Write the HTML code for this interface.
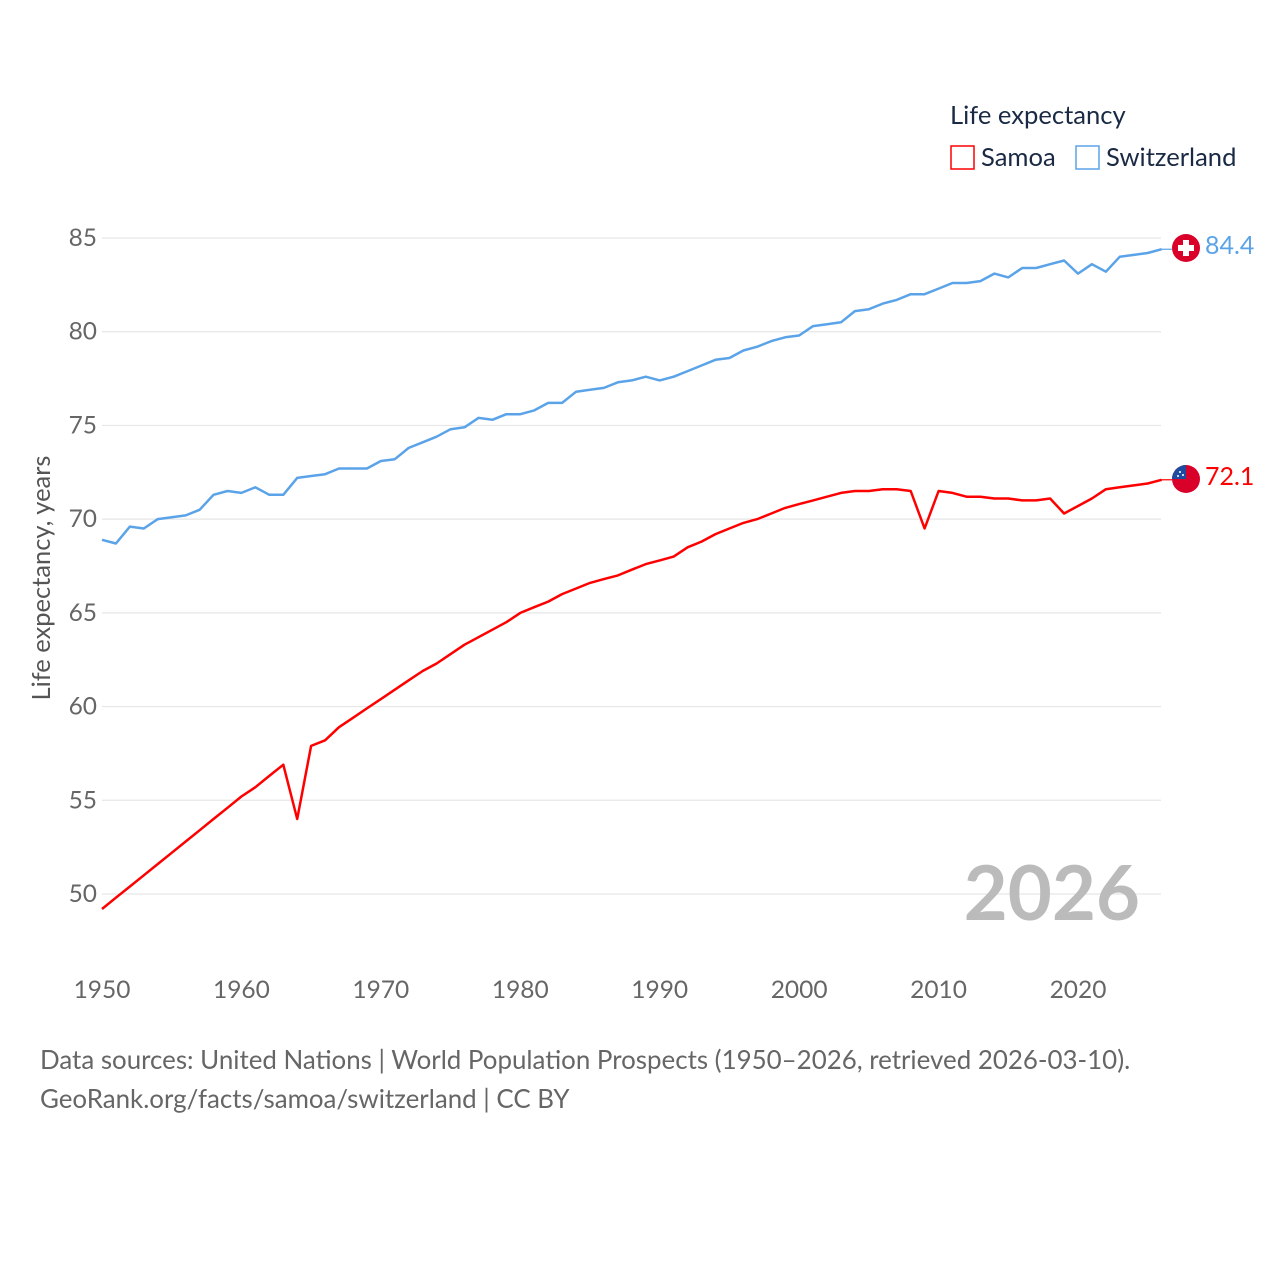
<!DOCTYPE html>
<html><head><meta charset="utf-8"><style>
body{margin:0;background:#fff;font-family:"Liberation Sans",sans-serif}
svg text{font-family:"Lato","Liberation Sans",sans-serif}
</style></head><body>
<svg id="chart" width="1280" height="1280" xmlns="http://www.w3.org/2000/svg">
<g id="grid"></g>
<g id="yticks"></g>
<g id="xticks"></g>
<text transform="translate(50,578) rotate(-90)" text-anchor="middle" font-size="25.5" fill="#555">Life expectancy, years</text>
<text x="1140" y="920" text-anchor="end" font-size="76" font-weight="bold" fill="#bbb">2026</text>
<g id="series"></g>
<g>
<text x="950" y="124" font-size="25.6" fill="#1a2a44">Life expectancy</text>
<g><rect x="951" y="146" width="23" height="23" fill="none" stroke="#f00" stroke-width="1.5"/><text x="981" y="166" font-size="25.6" fill="#1a2a44">Samoa</text></g>
<g><rect x="1076" y="146" width="23" height="23" fill="none" stroke="#5ba3e8" stroke-width="1.5"/><text x="1106" y="166" font-size="25.6" fill="#1a2a44">Switzerland</text></g>
</g>
<g>
<g><circle cx="1186" cy="248" r="14" fill="#d9002a"/><rect x="1183" y="240" width="6" height="16" fill="#fff"/><rect x="1178" y="245" width="16" height="6" fill="#fff"/></g>
<text id="lblCH" x="1205" y="254" font-size="25" fill="#5ba3e8"></text>
<g><circle cx="1186" cy="479" r="14" fill="#d9002a"/><path d="M1172,479 A14,14 0 0 1 1186,465 L1186,479 Z" fill="#1e4ba0"/><circle cx="1180" cy="472" r="1" fill="#fff"/><circle cx="1183" cy="475" r="1" fill="#fff"/><circle cx="1178" cy="476" r="1" fill="#fff"/></g>
<text id="lblWS" x="1205" y="485" font-size="25" fill="#f00"></text>
</g>
<text x="40" y="1069" font-size="25.9" fill="#666">Data sources: United Nations | World Population Prospects (1950–2026, retrieved 2026-03-10).</text>
<text x="40" y="1108" font-size="25.9" fill="#666">GeoRank.org/facts/samoa/switzerland | CC BY</text>
</svg>
<script>
const years=[];for(let y=1950;y<=2026;y++)years.push(y);
const switzerland=[68.9,68.7,69.6,69.5,70.0,70.1,70.2,70.5,71.3,71.5,71.4,71.7,71.3,71.3,72.2,72.3,72.4,72.7,72.7,72.7,73.1,73.2,73.8,74.1,74.4,74.8,74.9,75.4,75.3,75.6,75.6,75.8,76.2,76.2,76.8,76.9,77.0,77.3,77.4,77.6,77.4,77.6,77.9,78.2,78.5,78.6,79.0,79.2,79.5,79.7,79.8,80.3,80.4,80.5,81.1,81.2,81.5,81.7,82.0,82.0,82.3,82.6,82.6,82.7,83.1,82.9,83.4,83.4,83.6,83.8,83.1,83.6,83.2,84.0,84.1,84.2,84.4];
const samoa=[49.2,49.8,50.4,51.0,51.6,52.2,52.8,53.4,54.0,54.6,55.2,55.7,56.3,56.9,54.0,57.9,58.2,58.9,59.4,59.9,60.4,60.9,61.4,61.9,62.3,62.8,63.3,63.7,64.1,64.5,65.0,65.3,65.6,66.0,66.3,66.6,66.8,67.0,67.3,67.6,67.8,68.0,68.5,68.8,69.2,69.5,69.8,70.0,70.3,70.6,70.8,71.0,71.2,71.4,71.5,71.5,71.6,71.6,71.5,69.5,71.5,71.4,71.2,71.2,71.1,71.1,71.0,71.0,71.1,70.3,70.7,71.1,71.6,71.7,71.8,71.9,72.1];
const yTicks=[50,55,60,65,70,75,80,85];
const xTicks=[1950,1960,1970,1980,1990,2000,2010,2020];
const X=y=>102+(y-1950)*(976/70);
const Y=v=>238+(85-v)*(656/35);
const NS="http://www.w3.org/2000/svg";
function mk(t,a,p){const e=document.createElementNS(NS,t);for(const k in a)e.setAttribute(k,a[k]);p.appendChild(e);return e;}
const grid=document.getElementById('grid'),yt=document.getElementById('yticks'),xt=document.getElementById('xticks'),ser=document.getElementById('series');
yTicks.forEach(v=>{
 const l=mk('line',{x1:102,x2:1161,y1:Y(v),y2:Y(v),stroke:'#e6e6e6','stroke-width':1.2},grid);
 
 
 const t=mk('text',{x:97,y:Y(v)+8,'text-anchor':'end','font-size':24.5,fill:'#666'},yt);t.textContent=v;
 
 
});
xTicks.forEach(v=>{
 const t=mk('text',{x:X(v),y:998,'text-anchor':'middle','font-size':24.5,fill:'#666'},xt);t.textContent=v;
 
 
});
function line(vals,col,name){
 const d=vals.map((v,i)=>(i?'L':'M')+X(years[i]).toFixed(1)+','+Y(v).toFixed(1)).join('');
 const p=mk('path',{d:d,fill:'none',stroke:col,'stroke-width':2.5,'stroke-linejoin':'round'},ser);
 
 
 const last=vals[vals.length-1];
 const c=mk('line',{x1:X(2026),x2:1172,y1:Y(last),y2:Y(last),stroke:col,'stroke-width':1.2},ser);
 
 
}
line(switzerland,'#5ba3e8','switzerland-line');
line(samoa,'#ff0000','samoa-line');
document.getElementById('lblCH').textContent=switzerland[switzerland.length-1].toFixed(1);
document.getElementById('lblWS').textContent=samoa[samoa.length-1].toFixed(1);
</script>
</body></html>
